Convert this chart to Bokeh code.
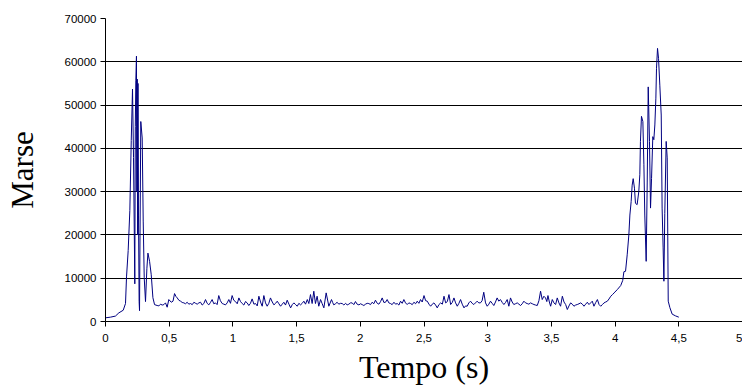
from bokeh.plotting import figure
from bokeh.models import Range1d, FixedTicker
from bokeh.embed import file_html
from bokeh.resources import INLINE

# ---- data ----
tempo = [
    0.000, 0.039, 0.078, 0.105, 0.139, 0.157, 0.165, 0.178, 0.191, 0.202,
    0.212, 0.220, 0.230, 0.234, 0.238, 0.243, 0.246, 0.249, 0.252, 0.255,
    0.259, 0.264, 0.267, 0.277, 0.288, 0.296, 0.304, 0.314, 0.325, 0.333,
    0.346, 0.359, 0.372, 0.385,
    0.405, 0.419, 0.432, 0.445, 0.458, 0.471, 0.484, 0.497, 0.516, 0.530,
    0.542, 0.553, 0.563, 0.576, 0.589, 0.602, 0.615, 0.628, 0.641, 0.654,
    0.667, 0.681, 0.694, 0.707, 0.720, 0.733, 0.746, 0.759, 0.772, 0.785,
    0.798, 0.811, 0.824, 0.837, 0.850, 0.863, 0.876, 0.889, 0.902, 0.916,
    0.929, 0.942, 0.955, 0.968, 0.981, 0.994, 1.007, 1.020, 1.034, 1.047,
    1.060, 1.073, 1.086, 1.099, 1.112, 1.125, 1.138, 1.151, 1.165, 1.178,
    1.191, 1.204, 1.217, 1.230, 1.243, 1.256, 1.269, 1.282, 1.295, 1.309,
    1.322, 1.335, 1.348, 1.361, 1.374, 1.387, 1.400, 1.413, 1.426, 1.440,
    1.453, 1.466, 1.479, 1.492, 1.505, 1.518, 1.531, 1.544, 1.557, 1.570,
    1.584, 1.596, 1.609, 1.622, 1.635, 1.648, 1.661, 1.674, 1.688, 1.701,
    1.714, 1.732, 1.753, 1.774, 1.783, 1.792, 1.805, 1.818, 1.831, 1.845,
    1.858, 1.871, 1.884, 1.897, 1.910, 1.923, 1.936, 1.949, 1.962, 1.975,
    1.989, 2.002, 2.015, 2.028, 2.041, 2.054, 2.067, 2.080, 2.093, 2.106,
    2.119, 2.133, 2.146, 2.159, 2.172, 2.185, 2.198, 2.211, 2.224, 2.237,
    2.250, 2.264, 2.277, 2.290, 2.303, 2.316, 2.329, 2.342, 2.355, 2.368,
    2.381, 2.395, 2.408, 2.421, 2.434, 2.447, 2.460, 2.473, 2.486, 2.500,
    2.513, 2.526, 2.539, 2.552, 2.565, 2.578, 2.591, 2.604, 2.617, 2.631,
    2.644, 2.657, 2.670, 2.683, 2.696, 2.709, 2.722, 2.735, 2.748, 2.761,
    2.774, 2.787, 2.800, 2.814, 2.826, 2.839, 2.852, 2.865, 2.878, 2.891,
    2.904, 2.917, 2.930, 2.943, 2.956, 2.969, 2.983, 2.996, 3.009, 3.022,
    3.035, 3.048, 3.061, 3.074, 3.087, 3.100, 3.114, 3.127, 3.140, 3.153,
    3.166, 3.179, 3.192, 3.205, 3.218, 3.232, 3.245, 3.258, 3.271, 3.284,
    3.297, 3.310, 3.323, 3.336, 3.350, 3.363, 3.376, 3.389, 3.402, 3.415,
    3.428, 3.441, 3.454, 3.464, 3.473, 3.484, 3.494, 3.507, 3.520, 3.533,
    3.546, 3.559, 3.572, 3.586, 3.599, 3.612, 3.625, 3.638, 3.651, 3.664,
    3.677, 3.690, 3.703, 3.717, 3.730, 3.743, 3.756, 3.769, 3.782, 3.795,
    3.808, 3.821, 3.834, 3.848, 3.861, 3.874, 3.887, 3.900, 3.913, 3.926,
    3.939, 3.952, 3.966, 3.979, 3.992, 4.018, 4.044, 4.060,
    4.069, 4.082, 4.095, 4.108, 4.116, 4.126, 4.134, 4.142, 4.152, 4.160,
    4.173, 4.186, 4.194, 4.199, 4.207, 4.218, 4.226, 4.233, 4.244, 4.252,
    4.260, 4.270, 4.278, 4.286, 4.296, 4.304, 4.312, 4.320, 4.325, 4.333,
    4.341, 4.351, 4.362, 4.369, 4.377, 4.383, 4.390, 4.401, 4.409, 4.417,
    4.430, 4.448, 4.474, 4.500,
]
marse = [
    850, 1000, 1250, 2000, 2600, 4150, 10300, 16400, 25600, 41800,
    53700, 37900, 8700, 45000, 55600, 61300, 30000, 56000, 20000, 55000,
    24600, 4600, 2500, 46200, 42400, 23200, 10100, 4600, 12300, 15800,
    13900, 10800, 5500, 3900,
    3700, 3600, 4000, 3800, 3900, 4300, 3300, 5070, 4450, 4700,
    6450, 5800, 5450, 4900, 4700, 4400, 4300, 4100, 4450, 4000,
    4150, 3900, 4450, 4200, 4000, 4300, 4450, 3800, 4150, 5070,
    4200, 3840, 4400, 5070, 4100, 4300, 3900, 5990, 4800, 4150,
    4000, 3840, 4300, 5070, 4200, 5990, 4900, 4610, 4100, 5450,
    4600, 4150, 3800, 4610, 4300, 3690, 4200, 5220, 4000, 4150,
    3600, 5840, 4500, 3530, 5990, 4300, 3530, 4200, 5450, 4500,
    3840, 4200, 4690, 4100, 3530, 4000, 4450, 3800, 4920, 4000,
    3150, 3900, 4300, 3900, 3530, 4200, 3840, 4200, 4690, 4000,
    5070, 4150, 6220, 4150, 6990, 4150, 5840, 3530, 5070, 4100,
    3150, 6610, 3530, 5070, 4400, 3840, 4100, 4450, 4000, 4200,
    4150, 3800, 4200, 3840, 4000, 4300, 4300, 3900, 4610, 4000,
    3840, 4100, 3900, 3690, 4000, 4200, 4150, 3900, 4450, 4100,
    4920, 4200, 4000, 4600, 5450, 4400, 4450, 5070, 4300, 4150,
    3900, 4450, 4000, 4150, 3800, 4690, 4200, 5070, 4300, 3920,
    4300, 4150, 3900, 4450, 4100, 4690, 4200, 5070, 4500, 5990,
    4800, 4690, 4000, 3530, 4000, 4300, 3800, 3150, 3900, 4300,
    4000, 5840, 4300, 4600, 6220, 3920, 4400, 5450, 4300, 3530,
    4200, 5070, 4000, 3150, 3600, 3530, 4300, 4690, 4200, 3920,
    4300, 4690, 4300, 4300, 4800, 6760, 4300, 3530, 4000, 4690,
    4200, 3690, 4500, 5450, 4700, 5070, 4400, 3920, 4400, 5070,
    3530, 5450, 4500, 3920, 4100, 4300, 4000, 3690, 4100, 4690,
    4300, 4150, 4000, 4300, 4100, 3920, 3800, 3690, 4800, 7000,
    5070, 5840, 5450, 4600, 5990, 4500, 3530, 5070, 4300, 3920,
    5450, 4300, 3530, 5840, 4500, 3920, 2770, 3600, 4300, 4000,
    3530, 3800, 3920, 4100, 4300, 4000, 3530, 4000, 4450, 3920,
    4300, 4690, 3530, 4400, 5070, 3920, 3530, 3900, 4300, 4500,
    4690, 5200, 5840, 6200, 6600, 7400, 8300, 9500,
    11500, 11600, 15400, 20000, 24600, 27700, 31500, 33000, 30800, 27300,
    27000, 30000, 33900, 41600, 47400, 46200, 36200, 24600, 13900, 32000,
    54200, 41600, 26200, 33000, 42700, 42000, 45400, 51600, 58500, 63100,
    60800, 54600, 47700, 26200, 17000, 9300, 25000, 41600, 37800, 4700,
    3200, 1700, 1300, 1000,
]
x_ticks = [0, 0.5, 1, 1.5, 2, 2.5, 3, 3.5, 4, 4.5, 5]
x_tick_labels = ["0", "0,5", "1", "1,5", "2", "2,5", "3", "3,5", "4", "4,5", "5"]
y_ticks = [0, 10000, 20000, 30000, 40000, 50000, 60000, 70000]
x_title = "Tempo (s)"
y_title = "Marse"

p = figure(width=742, height=387, output_backend="svg", toolbar_location=None,
           x_range=Range1d(0, 5), y_range=Range1d(0, 70000),
           min_border_left=105, min_border_right=0, min_border_top=18,
           min_border_bottom=65)
p.outline_line_color = None
p.background_fill_color = "white"
p.border_fill_color = "white"

p.line(tempo, marse, line_color="#000080", line_width=1)

for ax in (p.xaxis[0], p.yaxis[0]):
    ax.axis_line_color = "black"
    ax.axis_line_width = 1
    ax.major_tick_line_color = "black"
    ax.major_tick_in = 0
    ax.major_tick_out = 5
    ax.minor_tick_line_color = None
    ax.major_label_text_font = "Liberation Sans"
    ax.major_label_text_font_size = "11.5px"
    ax.major_label_text_color = "black"
    ax.axis_label_text_font = "Liberation Serif"
    ax.axis_label_text_font_style = "normal"
    ax.axis_label_text_color = "black"

p.xaxis.ticker = FixedTicker(ticks=x_ticks)
p.xaxis.major_label_overrides = {float(t): l for t, l in zip(x_ticks, x_tick_labels)}
p.xaxis.major_label_standoff = 7
p.xaxis.axis_label = x_title
p.xaxis.axis_label_text_font_size = "32px"
p.xaxis.axis_label_standoff = 4

p.yaxis.ticker = FixedTicker(ticks=y_ticks)
p.yaxis.major_label_standoff = 4
p.yaxis.axis_label = y_title
p.yaxis.axis_label_text_font_size = "31px"
p.yaxis.axis_label_standoff = 22

p.xgrid.visible = False
p.ygrid.ticker = FixedTicker(ticks=y_ticks)
p.ygrid.grid_line_color = "black"
p.ygrid.grid_line_width = 1
p.ygrid.grid_line_alpha = 1.0

open("out.html", "w").write(file_html(p, INLINE))
